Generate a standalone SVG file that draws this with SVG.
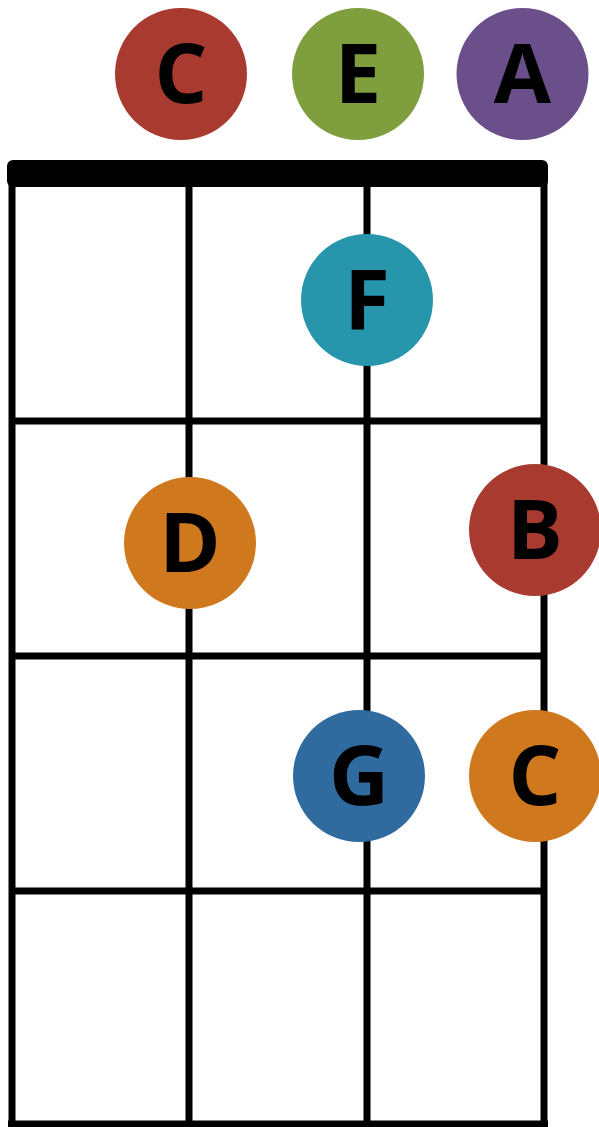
<svg xmlns="http://www.w3.org/2000/svg" width="599" height="1127" viewBox="0 0 599 1127">
<style>
.ln{stroke:#000;stroke-width:7;fill:none}
.n text{font-family:"Open Sans","Liberation Sans",sans-serif;font-weight:bold;font-size:83px;text-anchor:middle;fill:#000}
</style>
<rect width="599" height="1127" fill="#fff"/>
<g id="connectors">
<line class="ln" x1="12" y1="180" x2="12" y2="1127"/>
<line class="ln" x1="189" y1="180" x2="189" y2="1127"/>
<line class="ln" x1="367" y1="180" x2="367" y2="1127"/>
<line class="ln" x1="544" y1="180" x2="544" y2="1127"/>
<line class="ln" x1="12" y1="421" x2="544" y2="421"/>
<line class="ln" x1="12" y1="656" x2="544" y2="656"/>
<line class="ln" x1="12" y1="891" x2="544" y2="891"/>
<line class="ln" x1="8" y1="1124" x2="548" y2="1124"/>
</g>
<g id="nut"><rect x="7" y="160" width="541" height="27" rx="6" fill="#000"/></g>
<g id="open-C" class="n"><circle cx="181" cy="74" r="66" fill="#A83A30"/><text x="181" y="103">C</text></g>
<g id="open-E" class="n"><circle cx="358" cy="74" r="66" fill="#7F9E3E"/><text x="358" y="103">E</text></g>
<g id="open-A" class="n"><circle cx="522.5" cy="74" r="66" fill="#6A4F8A"/><text x="522.5" y="103">A</text></g>
<g id="F" class="n"><circle cx="367" cy="300" r="66" fill="#2795AB"/><text x="367" y="329">F</text></g>
<g id="D" class="n"><circle cx="190" cy="543" r="66" fill="#D0781E"/><text x="190" y="572">D</text></g>
<g id="B" class="n"><circle cx="535" cy="530" r="66" fill="#A83A30"/><text x="535" y="559">B</text></g>
<g id="G" class="n"><circle cx="359" cy="776" r="66" fill="#306BA0"/><text x="359" y="805">G</text></g>
<g id="C" class="n"><circle cx="535" cy="776" r="66" fill="#D0781E"/><text x="535" y="805">C</text></g>
</svg>
